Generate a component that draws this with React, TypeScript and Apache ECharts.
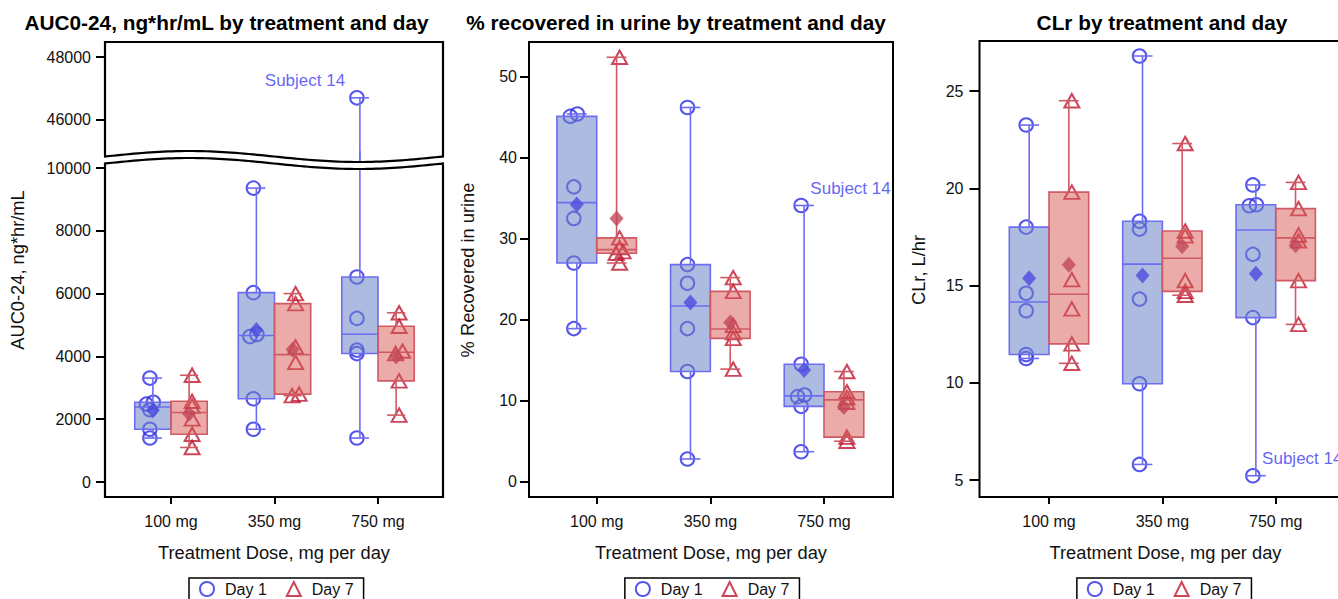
import React, { useEffect, useRef } from 'react';
import * as echarts from 'echarts';

// ---------------- data ----------------
const DOSES = ['100 mg', '350 mg', '750 mg'];
const DAY_NAMES = ['Day 1', 'Day 7'];
const X_TITLE = 'Treatment Dose, mg per day';
const TITLES = [
  'AUC0-24, ng*hr/mL by treatment and day',
  '% recovered in urine by treatment and day',
  'CLr by treatment and day',
];
const Y_TITLES = ['AUC0-24, ng*hr/mL', '% Recovered in urine', 'CLr, L/hr'];
const SUBJECT_LABEL = 'Subject 14';
const SUBJECT_DOSE = 2; // 750 mg
const SUBJECT_INDEX = 0; // first value of the 750 mg Day 1 lists

// six subjects per dose group, one list per dose (100, 350, 750 mg)
const AUC_DAY1 = [
  [3310, 2540, 2480, 2300, 1680, 1400],
  [9360, 6030, 4700, 4630, 2650, 1680],
  [46700, 6530, 5210, 4200, 4090, 1400],
];
const AUC_DAY7 = [
  [3400, 2570, 2420, 2010, 1520, 1100],
  [6000, 5680, 4300, 3810, 2800, 2750],
  [5390, 4960, 4170, 4094, 3220, 2130],
];
const URINE_DAY1 = [
  [45.4, 45.1, 36.4, 32.5, 27.0, 18.9],
  [46.2, 26.8, 24.5, 18.9, 13.6, 2.8],
  [34.1, 14.5, 10.7, 10.5, 9.3, 3.7],
];
const URINE_DAY7 = [
  [52.4, 30.1, 28.9, 28.4, 28.2, 27.0],
  [25.2, 23.5, 19.3, 18.4, 17.7, 13.9],
  [13.6, 11.1, 10.4, 9.8, 5.5, 5.0],
];
const CLR_DAY1 = [
  [23.25, 18.0, 14.6, 13.7, 11.45, 11.25],
  [26.8, 18.3, 17.9, 14.3, 9.95, 5.8],
  [5.22, 20.17, 19.15, 19.1, 16.6, 13.35],
];
const CLR_DAY7 = [
  [24.5, 19.8, 15.3, 13.8, 12.0, 11.0],
  [22.3, 17.8, 17.55, 15.25, 14.7, 14.5],
  [20.3, 18.95, 17.6, 17.3, 15.25, 13.0],
];

const AUC_TICKS_UPPER = [46000, 48000];
const AUC_TICKS_LOWER = [0, 2000, 4000, 6000, 8000, 10000];
const URINE_TICKS = [0, 10, 20, 30, 40, 50];
const CLR_TICKS = [5, 10, 15, 20, 25];
const CAT_TICKS = [1, 2, 3];

// ---------------- style ----------------
const FONT = '"Liberation Sans", Arial, Helvetica, sans-serif';
const MARKER = ['#2a2ae6', '#bf1630'];
const BOX_FILL = ['rgba(108,132,200,0.55)', 'rgba(214,88,84,0.5)'];
const BOX_LINE = ['#6d6df0', '#cf5a64'];
const MEAN_COLOR = ['#4b4bdd', '#c24858'];
const LABEL_BLUE = '#3b3bf0';
const BOX_HALF = 0.175;

const FRAME_BOTTOM = 497;

type GridSpec = {
  top: number;
  height: number;
  anchorVal: number;
  anchorPx: number;
  ppu: number;
  ticks: number[];
  showX: boolean;
};
type PanelSpec = {
  day1: number[][];
  day7: number[][];
  left: number;
  width: number;
  cat1Px: number;
  catStep: number;
  grids: GridSpec[];
  tickLen: number;
  labelMargin: number;
  subjectPos: 'left' | 'right';
  subjectOffset: number[];
  border: boolean;
  titleX: number;
  yTitleX: number;
};

const PANELS: PanelSpec[] = [
  {
    day1: AUC_DAY1,
    day7: AUC_DAY7,
    left: 105,
    width: 338,
    cat1Px: 171,
    catStep: 103.5,
    grids: [
      { top: 42, height: 121, anchorVal: 48000, anchorPx: 57, ppu: 0.0314, ticks: AUC_TICKS_UPPER, showX: false },
      { top: 151, height: 346, anchorVal: 0, anchorPx: 482, ppu: 0.0314, ticks: AUC_TICKS_LOWER, showX: true },
    ],
    tickLen: 9,
    labelMargin: 14,
    subjectPos: 'left',
    subjectOffset: [1, -17],
    border: false,
    titleX: 226.5,
    yTitleX: 17.5,
  },
  {
    day1: URINE_DAY1,
    day7: URINE_DAY7,
    left: 529,
    width: 364,
    cat1Px: 596.7,
    catStep: 113.65,
    grids: [{ top: 42, height: 455, anchorVal: 0, anchorPx: 481.7, ppu: 8.1, ticks: URINE_TICKS, showX: true }],
    tickLen: 9,
    labelMargin: 12,
    subjectPos: 'right',
    subjectOffset: [-3.5, -17],
    border: true,
    titleX: 676,
    yTitleX: 467.5,
  },
  {
    day1: CLR_DAY1,
    day7: CLR_DAY7,
    left: 979.5,
    width: 372,
    cat1Px: 1049,
    catStep: 113.35,
    grids: [{ top: 41, height: 456, anchorVal: 5, anchorPx: 480, ppu: 19.45, ticks: CLR_TICKS, showX: true }],
    tickLen: 10,
    labelMargin: 16,
    subjectPos: 'right',
    subjectOffset: [-3.5, -17],
    border: true,
    titleX: 1162,
    yTitleX: 918.5,
  },
];

// SAS default (definition 5) percentile
function sasQuantile(sorted: number[], p: number): number {
  const n = sorted.length;
  const np = n * p;
  const j = Math.floor(np + 1e-9);
  const g = np - j;
  if (g > 1e-9) return sorted[j];
  return (sorted[j - 1] + sorted[j]) / 2;
}

// spread markers whose values nearly coincide (in pixels)
function jitterOffsets(vals: number[], ppu: number): number[] {
  const idx = vals.map((_, i) => i).sort((a, b) => vals[a] - vals[b]);
  const off = new Array(vals.length).fill(0);
  let start = 0;
  for (let i = 1; i <= idx.length; i++) {
    if (i === idx.length || (vals[idx[i]] - vals[idx[i - 1]]) * ppu > 3) {
      const m = i - start;
      for (let j = 0; j < m; j++) off[idx[start + j]] = (j - (m - 1) / 2) * 7;
      start = i;
    }
  }
  return off;
}

const makeBoxRenderer = (d: number) => (params: any, api: any) => {
  const cs = params.coordSys;
  const top = cs.y;
  const bot = cs.y + cs.height;
  const xv = api.value(0);
  const yOf = (i: number) => api.coord([xv, api.value(i)])[1];
  const cx = api.coord([xv, api.value(3)])[0];
  const hw = api.size([BOX_HALF, 0])[0];
  const yMin = yOf(1);
  const yQ1 = yOf(2);
  const yMed = yOf(3);
  const yQ3 = yOf(4);
  const yMax = yOf(5);
  const clamp = (v: number) => Math.max(top, Math.min(bot, v));
  const inside = (v: number) => v >= top - 0.5 && v <= bot + 0.5;
  const stroke = BOX_LINE[d];
  const children: any[] = [];
  const seg = (x1: number, y1: number, x2: number, y2: number) =>
    children.push({ type: 'line', shape: { x1, y1, x2, y2 }, style: { stroke, lineWidth: 1.6 } });
  let a = clamp(yQ3);
  let b = clamp(yMax);
  if (a - b > 0.5) seg(cx, a, cx, b);
  a = clamp(yQ1);
  b = clamp(yMin);
  if (b - a > 0.5) seg(cx, a, cx, b);
  if (inside(yMax)) seg(cx - hw * 0.5, yMax, cx + hw * 0.5, yMax);
  if (inside(yMin)) seg(cx - hw * 0.5, yMin, cx + hw * 0.5, yMin);
  const t = clamp(yQ3);
  const bt = clamp(yQ1);
  if (bt - t > 0.5) {
    children.push({
      type: 'rect',
      shape: { x: cx - hw, y: t, width: 2 * hw, height: bt - t },
      style: { fill: BOX_FILL[d], stroke, lineWidth: 1.6 },
    });
    if (inside(yMed)) seg(cx - hw, yMed, cx + hw, yMed);
  }
  return { type: 'group', children };
};

function buildOption() {
  const grid: any[] = [];
  const xAxis: any[] = [];
  const yAxis: any[] = [];
  const series: any[] = [];
  const graphics: any[] = [];
  const legend: any[] = [];

  const axisText = { color: '#111', fontFamily: FONT, fontSize: 16 };

  PANELS.forEach((panel, p) => {
    const xMin = 1 - (panel.cat1Px - panel.left) / panel.catStep;
    const xMax = xMin + panel.width / panel.catStep;
    panel.grids.forEach((g) => {
      const gi = grid.length;
      grid.push({
        left: panel.left,
        top: g.top,
        width: panel.width,
        height: g.height,
        show: panel.border,
        borderColor: '#000',
        borderWidth: 2,
        backgroundColor: 'transparent',
        containLabel: false,
      });
      const yMinV = g.anchorVal - (g.top + g.height - g.anchorPx) / g.ppu;
      const yMaxV = g.anchorVal + (g.anchorPx - g.top) / g.ppu;
      xAxis.push({
        type: 'value',
        gridIndex: gi,
        position: 'bottom',
        min: xMin,
        max: xMax,
        show: g.showX,
        splitLine: { show: false },
        axisLine: { show: !panel.border, onZero: false, lineStyle: { color: '#000', width: 2 } },
        axisTick: { show: true, length: 7, lineStyle: { color: '#000', width: 2 }, customValues: CAT_TICKS },
        axisLabel: {
          ...axisText,
          margin: 16,
          customValues: CAT_TICKS,
          formatter: (v: number) => DOSES[Math.round(v) - 1] ?? '',
        },
        name: X_TITLE,
        nameLocation: 'middle',
        nameGap: 46,
        nameTextStyle: { color: '#111', fontFamily: FONT, fontSize: 18.3 },
      });
      yAxis.push({
        type: 'value',
        gridIndex: gi,
        position: 'left',
        min: yMinV,
        max: yMaxV,
        splitLine: { show: false },
        axisLine: { show: false, onZero: false },
        axisTick: { show: true, length: panel.tickLen, lineStyle: { color: '#000', width: 2 }, customValues: g.ticks },
        axisLabel: {
          ...axisText,
          margin: panel.labelMargin,
          customValues: g.ticks,
          formatter: (v: number) => String(Math.round(v * 100) / 100),
        },
      });

      [panel.day1, panel.day7].forEach((groups, d) => {
        const side = d === 0 ? -1 : 1;
        const pts: any[] = [];
        const boxes: number[][] = [];
        const means: number[][] = [];
        groups.forEach((vals, k) => {
          const cx = k + 1 + side * BOX_HALF;
          const offs = jitterOffsets(vals, g.ppu);
          vals.forEach((v, i) => {
            const item: any = { value: [cx + (side * 3 + offs[i]) / panel.catStep, v] };
            if (d === 0 && k === SUBJECT_DOSE && i === SUBJECT_INDEX) {
              item.label = {
                show: true,
                formatter: SUBJECT_LABEL,
                position: panel.subjectPos,
                offset: panel.subjectOffset,
                color: LABEL_BLUE,
                fontFamily: FONT,
                fontSize: 17,
              };
            }
            pts.push(item);
          });
          const s = [...vals].sort((a, b) => a - b);
          boxes.push([cx, s[0], sasQuantile(s, 0.25), sasQuantile(s, 0.5), sasQuantile(s, 0.75), s[s.length - 1]]);
          means.push([cx, vals.reduce((a, b) => a + b, 0) / vals.length]);
        });
        series.push({
          type: 'scatter',
          name: DAY_NAMES[d],
          xAxisIndex: gi,
          yAxisIndex: gi,
          data: pts,
          symbol: d === 0 ? 'circle' : 'triangle',
          symbolSize: d === 0 ? 13.5 : [15, 13.5],
          itemStyle: { color: 'rgba(0,0,0,0)', borderColor: MARKER[d], borderWidth: 2 },
          clip: true,
          silent: true,
          z: 2,
        });
        series.push({
          type: 'custom',
          name: DAY_NAMES[d] + ' box',
          xAxisIndex: gi,
          yAxisIndex: gi,
          data: boxes,
          renderItem: makeBoxRenderer(d),
          silent: true,
          z: 3,
        });
        series.push({
          type: 'scatter',
          name: DAY_NAMES[d] + ' mean',
          xAxisIndex: gi,
          yAxisIndex: gi,
          data: means,
          symbol: 'diamond',
          symbolSize: [14, 16],
          itemStyle: { color: MEAN_COLOR[d] },
          clip: true,
          silent: true,
          z: 4,
        });
      });
    });

    // title + y-axis title
    graphics.push({
      type: 'text',
      x: panel.titleX,
      y: 22,
      silent: true,
      style: {
        text: TITLES[p],
        textAlign: 'center',
        textVerticalAlign: 'middle',
        fill: '#000',
        font: `bold 20.8px ${FONT}`,
      },
    });
    graphics.push({
      type: 'text',
      x: panel.yTitleX,
      y: 270,
      rotation: Math.PI / 2,
      silent: true,
      style: {
        text: Y_TITLES[p],
        textAlign: 'center',
        textVerticalAlign: 'middle',
        fill: '#111',
        font: `18.3px ${FONT}`,
      },
    });

    const legCenter = panel.cat1Px + panel.catStep;
    legend.push({
      left: legCenter - 85.5,
      top: 578,
      orient: 'horizontal',
      selectedMode: false,
      borderColor: '#000',
      borderWidth: 1.5,
      padding: [3, 10, 3, 10],
      itemWidth: 14,
      itemHeight: 14,
      itemGap: 19,
      textStyle: { color: '#111', fontFamily: FONT, fontSize: 16, padding: [0, 0, 0, 6] },
      data: [
        { name: DAY_NAMES[0], icon: 'emptyCircle', itemStyle: { color: MARKER[0], borderColor: MARKER[0], borderWidth: 2 } },
        { name: DAY_NAMES[1], icon: 'emptyTriangle', itemStyle: { color: MARKER[1], borderColor: MARKER[1], borderWidth: 2 } },
      ],
    });
  });

  // frame + axis break of the first panel
  const p0 = PANELS[0];
  const x0 = p0.left;
  const x1 = p0.left + p0.width;
  const waveU = (x: number) => 156.5 - 5.5 * Math.sin((2 * Math.PI * (x - x0)) / (x1 - x0));
  const waveL = (x: number) => waveU(x) + 7;
  const upperWave: number[][] = [];
  const lowerWave: number[][] = [];
  for (let i = 0; i <= 80; i++) {
    const x = x0 - 1 + ((x1 - x0 + 2) * i) / 80;
    upperWave.push([x, waveU(x)]);
    lowerWave.push([x, waveL(x)]);
  }
  graphics.push({
    type: 'polygon',
    silent: true,
    z: 50,
    shape: { points: [...upperWave, ...[...lowerWave].reverse()] },
    style: { fill: '#fff', stroke: null },
  });
  graphics.push({
    type: 'polyline',
    silent: true,
    z: 51,
    shape: { points: [[x0, waveU(x0)], [x0, 42], [x1, 42], [x1, waveU(x1)], ...[...upperWave].reverse()] },
    style: { stroke: '#000', lineWidth: 2.2, fill: null },
  });
  graphics.push({
    type: 'polyline',
    silent: true,
    z: 51,
    shape: { points: [[x0, waveL(x0)], [x0, FRAME_BOTTOM], [x1, FRAME_BOTTOM], [x1, waveL(x1)], ...[...lowerWave].reverse()] },
    style: { stroke: '#000', lineWidth: 2.2, fill: null },
  });

  return {
    animation: false,
    backgroundColor: '#fff',
    textStyle: { fontFamily: FONT },
    grid,
    xAxis,
    yAxis,
    legend,
    series,
    graphic: { elements: graphics },
  };
}

export default function App() {
  const ref = useRef<HTMLDivElement>(null);
  useEffect(() => {
    if (!ref.current) return;
    const chart = echarts.init(ref.current, null, { renderer: 'svg' });
    chart.setOption(buildOption() as any);
    return () => chart.dispose();
  }, []);
  return (
    <div
      style={{
        position: 'fixed',
        left: 0,
        top: 0,
        width: 1338,
        height: 599,
        overflow: 'hidden',
        background: '#fff',
      }}
    >
      <div ref={ref} style={{ width: 1360, height: 599 }} />
    </div>
  );
}
